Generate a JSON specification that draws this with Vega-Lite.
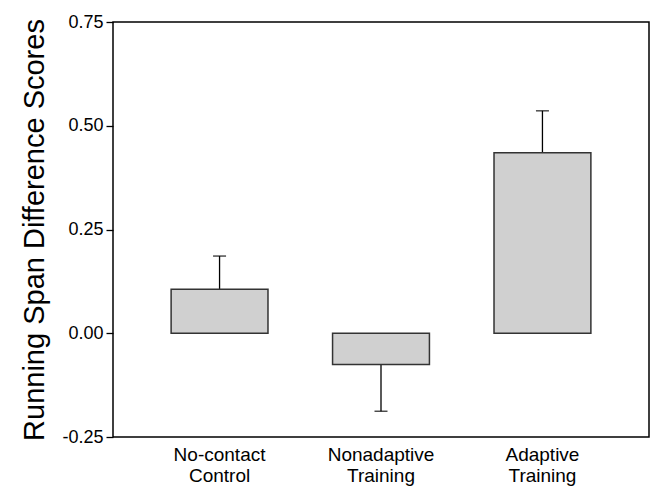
{
  "$schema": "https://vega.github.io/schema/vega-lite/v6.json",
  "width": 536,
  "height": 415,
  "autosize": {"type": "none"},
  "padding": {"left": 113, "top": 22, "right": 2, "bottom": 49},
  "background": "white",
  "config": {
    "view": {"stroke": "black", "strokeWidth": 1.5},
    "font": "Liberation Sans"
  },
  "data": {
    "values": [
      {"group": "No-contact Control", "mean": 0.106, "err": 0.186},
      {"group": "Nonadaptive Training", "mean": -0.075, "err": -0.188},
      {"group": "Adaptive Training", "mean": 0.435, "err": 0.536}
    ]
  },
  "encoding": {
    "x": {
      "field": "group",
      "type": "nominal",
      "sort": null,
      "scale": {"paddingInner": 0.4, "paddingOuter": 0.36},
      "axis": {
        "title": null,
        "domain": false,
        "ticks": false,
        "labelAngle": 0,
        "labelFontSize": 19,
        "labelColor": "black",
        "labelPadding": 8,
        "labelLineHeight": 21,
        "labelExpr": "split(datum.label, ' ')"
      }
    }
  },
  "layer": [
    {
      "mark": {"type": "rule", "stroke": "black", "strokeWidth": 1.3},
      "encoding": {
        "y": {"field": "mean", "type": "quantitative"},
        "y2": {"field": "err"}
      }
    },
    {
      "mark": {"type": "tick", "color": "black", "size": 13, "thickness": 1.5, "orient": "horizontal"},
      "encoding": {
        "y": {"field": "err", "type": "quantitative"}
      }
    },
    {
      "mark": {"type": "bar", "fill": "#d0d0d0", "stroke": "#333333", "strokeWidth": 1.5},
      "encoding": {
        "y": {
          "field": "mean",
          "type": "quantitative",
          "scale": {"domain": [-0.25, 0.75], "nice": false, "zero": false},
          "axis": {
            "title": "Running Span Difference Scores",
            "titleFontSize": 29,
            "titleFontWeight": "normal",
            "titleColor": "black",
            "titlePadding": 12,
            "values": [-0.25, 0, 0.25, 0.5, 0.75],
            "labelExpr": "datum.value < 0 ? '-' + format(-datum.value, '.2f') : format(datum.value, '.2f')",
            "grid": false,
            "domain": false,
            "tickSize": 7,
            "tickColor": "black",
            "tickWidth": 1.3,
            "labelPadding": 3,
            "labelFontSize": 18,
            "labelColor": "black"
          }
        }
      }
    },
    {
      "mark": {"type": "rule", "stroke": "black", "strokeWidth": 1.3},
      "encoding": {
        "y": {"datum": 0, "type": "quantitative"}
      }
    }
  ]
}
